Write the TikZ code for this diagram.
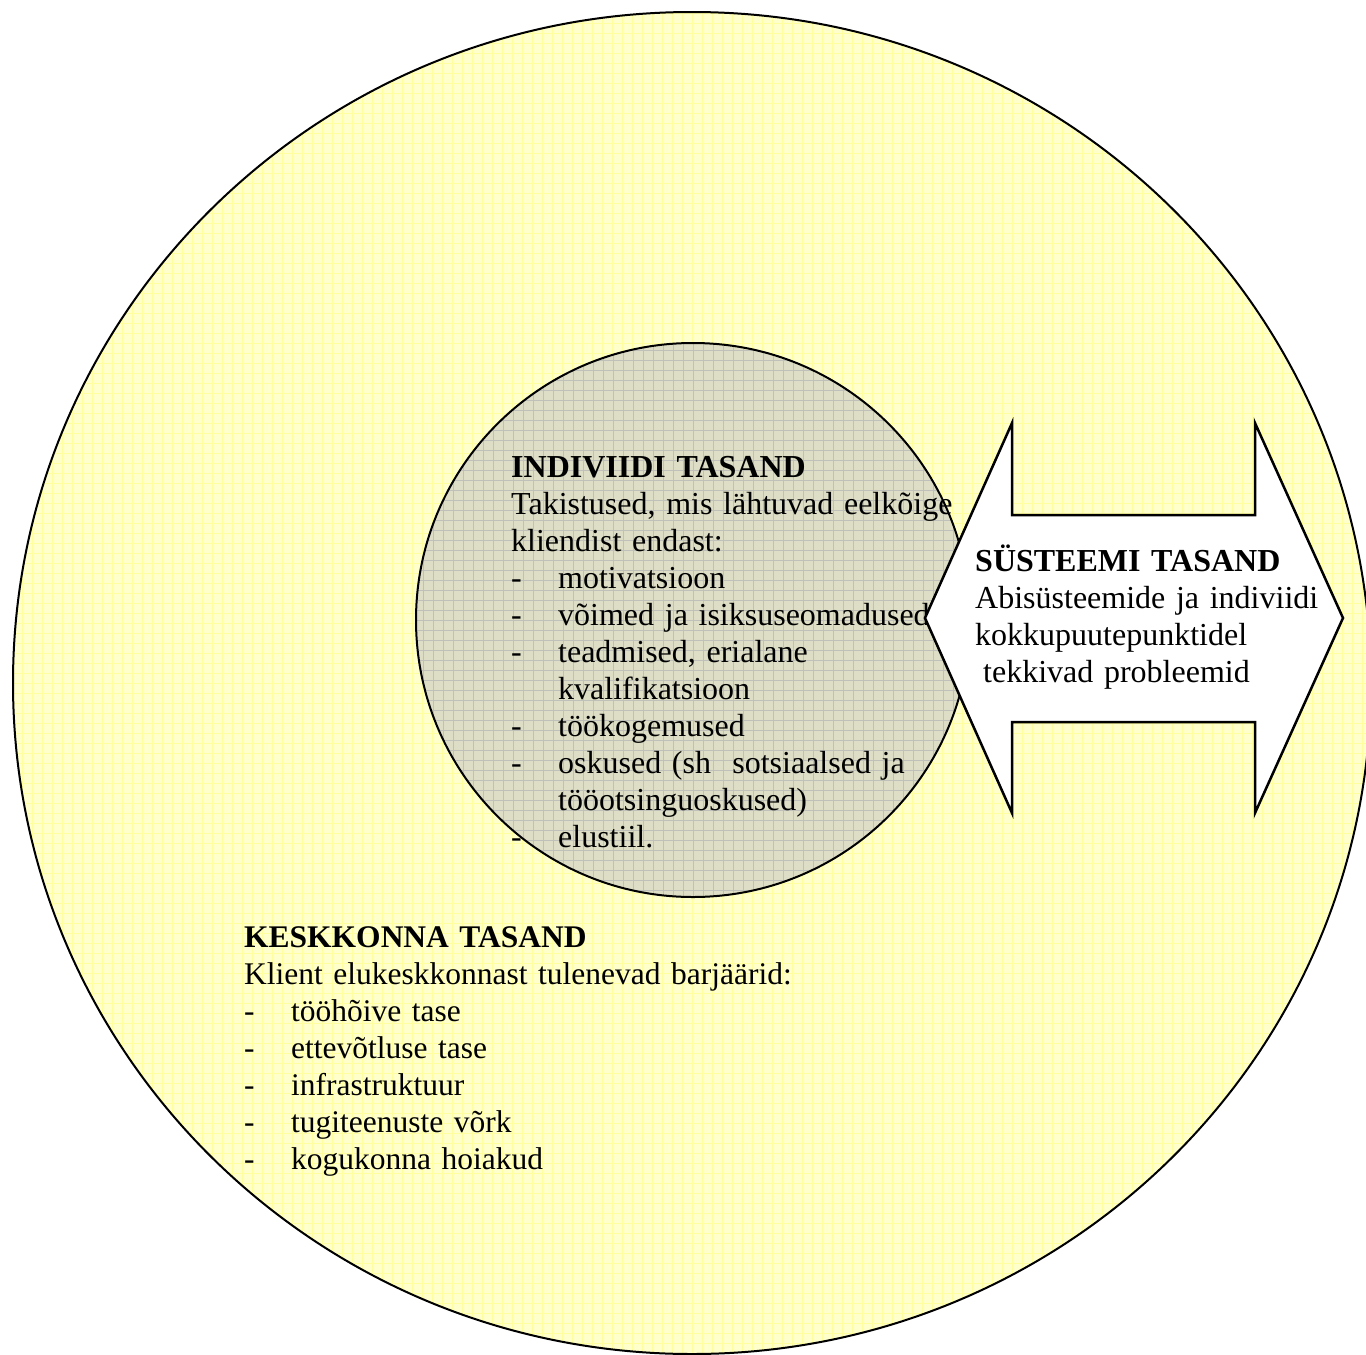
\documentclass[tikz,border=0pt]{standalone}
\usepackage{fontspec}
\setmainfont{Liberation Serif}
\usetikzlibrary{shapes.geometric}
\definecolor{ylw}{RGB}{255,255,204}
\definecolor{ylwline}{RGB}{255,255,160}
\definecolor{gry}{RGB}{222,222,198}
\definecolor{gryline}{RGB}{192,192,186}
\tikzset{
  txt/.style={anchor=base west, inner sep=0pt, align=left, text width=#1,
    font=\fontsize{32}{37}\selectfont},
  ygrid/.style={draw=ylwline, line width=0.9pt},
  ggrid/.style={draw=gryline, line width=0.9pt},
}
\newcommand{\itm}[1]{\makebox[47pt][l]{-}#1}
\newcommand{\cnt}[1]{\hspace*{47pt}#1}
\begin{document}
\begin{tikzpicture}[x=1pt,y=-1pt]
\useasboundingbox (0,0) rectangle (1366,1355);
\clip (0,0) rectangle (1366,1355);
\fill[white] (0,0) rectangle (1366,1355);
% outer environment circle
\node[ellipse, minimum width=1358pt, minimum height=1342pt, inner sep=0pt,
      fill=ylw, draw=black, line width=2pt,
      path picture={\foreach \i in {-690,-680,...,690} {
          \draw[ygrid] (\i,-690) -- (\i,690);
          \draw[ygrid] (-690,\i) -- (690,\i);}}] (env) at (692,683) {};
% inner individual circle
\node[circle, minimum size=554pt, inner sep=0pt,
      fill=gry, draw=black, line width=2pt,
      path picture={\foreach \i in {-290,-280,...,290} {
          \draw[ggrid] (\i,-290) -- (\i,290);
          \draw[ggrid] (-290,\i) -- (290,\i);}}] (ind) at (693,620) {};
\node[txt=480pt] (indtxt) at (511,477) {\textbf{INDIVIIDI TASAND}\\
Takistused, mis lähtuvad eelkõige\\
kliendist endast:\\
\itm{motivatsioon}\\
\itm{võimed ja isiksuseomadused}\\
\itm{teadmised, erialane}\\
\cnt{kvalifikatsioon}\\
\itm{töökogemused}\\
\itm{oskused (sh\ \ sotsiaalsed ja}\\
\cnt{tööotsinguoskused)}\\
\itm{elustiil.}};
% system level double arrow
\draw[fill=white, draw=black, line width=2.5pt, line join=miter]
  (925,618) -- (1012,423) -- (1012,515) -- (1255,515) -- (1255,423)
  -- (1343,618) -- (1255,813) -- (1255,722) -- (1012,722) -- (1012,813) -- cycle;
\node[txt=380pt] (systxt) at (975,571) {\textbf{SÜSTEEMI TASAND}\\
Abisüsteemide ja indiviidi\\
kokkupuutepunktidel\\
\hspace*{8pt}tekkivad probleemid};
% environment text
\node[txt=620pt, font=\fontsize{31.5}{37}\selectfont] (envtxt) at (244,947) {\textbf{KESKKONNA TASAND}\\
Klient elukeskkonnast tulenevad barjäärid:\\
\itm{tööhõive tase}\\
\itm{ettevõtluse tase}\\
\itm{infrastruktuur}\\
\itm{tugiteenuste võrk}\\
\itm{kogukonna hoiakud}};
\end{tikzpicture}
\end{document}
